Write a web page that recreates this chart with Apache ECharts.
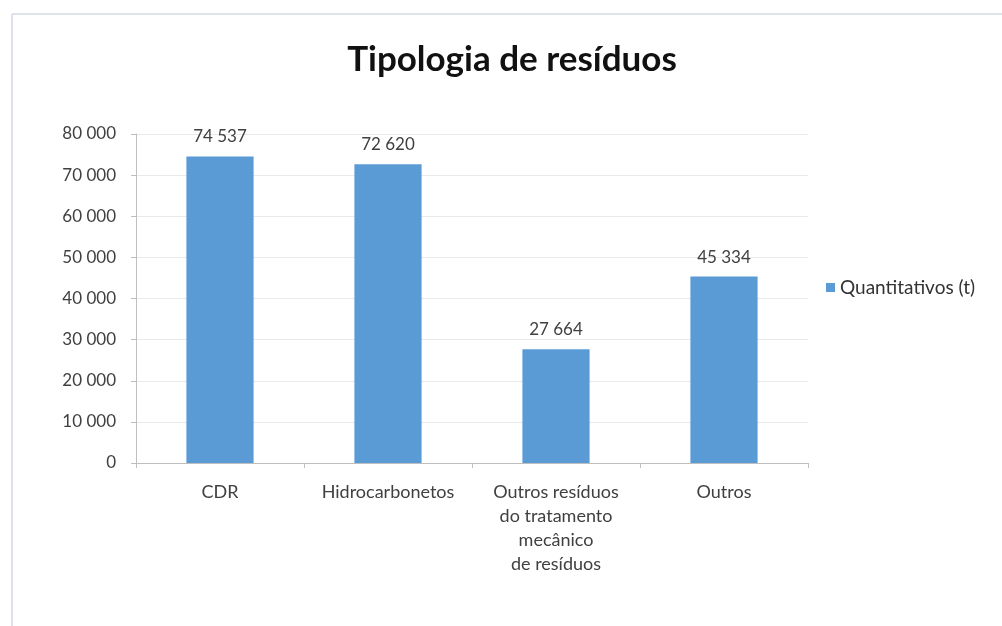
<!DOCTYPE html>
<html>
<head>
<meta charset="utf-8">
<script src="https://cdn.jsdelivr.net/npm/echarts@6/dist/echarts.min.js"></script>
<style>html,body{margin:0;padding:0;background:#fff}#c{width:1002px;height:626px}</style>
</head>
<body>
<div id="c"></div>
<script>
const categories = ['CDR', 'Hidrocarbonetos', 'Outros resíduos\ndo tratamento\nmecânico\nde resíduos', 'Outros'];
const values = [74537, 72620, 27664, 45334];
const seriesName = 'Quantitativos (t)';
const titleText = 'Tipologia de resíduos';

function fmt(v) {
  return String(v).replace(/\B(?=(\d{3})+(?!\d))/g, ' ');
}

const chart = echarts.init(document.getElementById('c'), null, {renderer: 'canvas'});
const font = 'Lato, "Open Sans", sans-serif';
chart.setOption({
  animation: false,
  backgroundColor: '#ffffff',
  title: {
    text: titleText,
    left: 507, top: 37, textAlign: 'center',
    textStyle: {fontFamily: font, fontSize: 35, fontWeight: 'bold', color: '#111'}
  },
  legend: {
    data: [seriesName],
    left: 821, top: 273, orient: 'vertical',
    icon: 'rect', itemWidth: 9, itemHeight: 9, itemGap: 4,
    textStyle: {fontFamily: font, fontSize: 19, color: '#333'}
  },
  graphic: [
    {type: 'line', shape: {x1: 12, y1: 14, x2: 1002, y2: 14}, style: {stroke: '#dfe2ea', lineWidth: 2}, silent: true},
    {type: 'line', shape: {x1: 12, y1: 14, x2: 12, y2: 626}, style: {stroke: '#dfe2ea', lineWidth: 2}, silent: true}
  ],
  grid: {left: 136, right: 194, top: 134, bottom: 163, containLabel: false},
  xAxis: {
    type: 'category',
    data: categories,
    axisLine: {lineStyle: {color: '#bfbfbf'}},
    axisTick: {show: true, alignWithLabel: false, length: 5, lineStyle: {color: '#bfbfbf'}},
    axisLabel: {fontFamily: font, fontSize: 18, color: '#404040', lineHeight: 24, margin: 17, interval: 0}
  },
  yAxis: {
    type: 'value',
    min: 0, max: 80000, interval: 10000,
    axisLine: {show: true, lineStyle: {color: '#bfbfbf'}},
    axisTick: {show: true, length: 5, lineStyle: {color: '#bfbfbf'}},
    splitLine: {lineStyle: {color: '#e9e9e9'}},
    axisLabel: {fontFamily: font, fontSize: 17, color: '#404040', margin: 20, formatter: v => fmt(v)}
  },
  series: [{
    name: seriesName,
    type: 'bar',
    data: values,
    barWidth: '40%',
    itemStyle: {color: '#5b9bd5'},
    label: {
      show: true, position: 'top', distance: 11,
      fontFamily: font, fontSize: 17, color: '#404040',
      formatter: p => fmt(p.value)
    }
  }]
});
</script>
</body>
</html>
